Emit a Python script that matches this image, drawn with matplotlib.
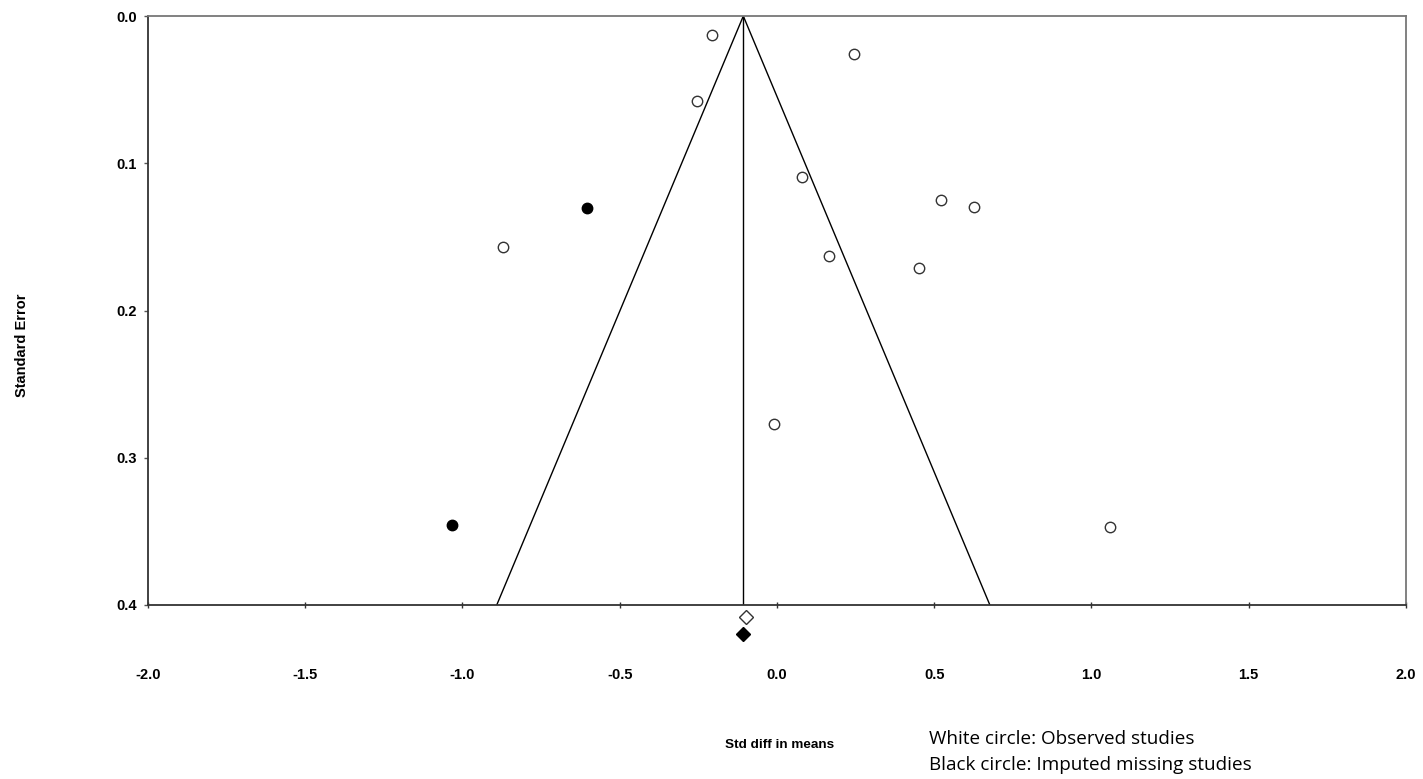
import numpy as np
import matplotlib.pyplot as plt

# observed studies (white circles)
obs_x = [-0.206, 0.246, -0.253, 0.080, 0.521, 0.626, -0.871, 0.165, 0.452, -0.010, 1.059]
obs_se = [0.013, 0.026, 0.058, 0.109, 0.125, 0.130, 0.157, 0.163, 0.171, 0.277, 0.347]

# imputed missing studies (black circles)
imp_x = [-0.603, -1.033]
imp_se = [0.1306, 0.346]

# summary effects
obs_mean = -0.100
adj_mean = -0.107

xticks = [-2.0, -1.5, -1.0, -0.5, 0.0, 0.5, 1.0, 1.5, 2.0]
yticks = [0.0, 0.1, 0.2, 0.3, 0.4]

fig = plt.figure(figsize=(14.23, 7.79), dpi=100)
ax = fig.add_axes([0.104, 0.2234, 0.884, 0.756])

# funnel
se_max = 0.4
ax.plot([adj_mean - 1.96 * se_max, adj_mean, adj_mean + 1.96 * se_max],
        [se_max, 0, se_max], color='black', lw=1)
ax.plot([adj_mean, adj_mean], [0, se_max], color='black', lw=1)

ax.plot(obs_x, obs_se, 'o', ms=7.5, mfc='white', mec='#333333', mew=1)
ax.plot(imp_x, imp_se, 'o', ms=7.5, mfc='black', mec='black', mew=1)

ax.plot([obs_mean], [0.408], 'D', ms=7, mfc='white', mec='#333333', mew=1, clip_on=False)
ax.plot([adj_mean], [0.4197], 'D', ms=7, mfc='black', mec='black', mew=1, clip_on=False)

ax.set_xlim(-2, 2)
ax.set_ylim(0.4, 0)
ax.set_xticks(xticks)
ax.set_yticks(yticks)
ax.set_xticklabels(['%.1f' % t for t in xticks])
ax.set_yticklabels(['%.1f' % t for t in yticks])

for lab in ax.get_xticklabels() + ax.get_yticklabels():
    lab.set_fontfamily('Liberation Sans')
    lab.set_fontweight('bold')
    lab.set_fontsize(10.5)

ax.tick_params(axis='x', direction='inout', length=5, width=1, pad=43, colors='#333333',
               labelcolor='black')
ax.tick_params(axis='y', direction='out', length=3, width=1, pad=5, colors='#555555',
               labelcolor='black')

ax.spines['left'].set_color('#333333')
ax.spines['bottom'].set_color('#333333')
ax.spines['top'].set_color('#777777')
ax.spines['right'].set_color('#777777')
for s in ax.spines.values():
    s.set_linewidth(1.3)

fig.text(0.0155, 0.557, 'Standard Error', rotation=90, ha='center', va='center',
         fontsize=10.5, fontweight='bold', family='Liberation Sans')
fig.text(0.548, 0.044, 'Std diff in means', ha='center', va='center',
         fontsize=9.7, fontweight='bold', family='Liberation Sans')

fig.text(0.653, 0.051, 'White circle: Observed studies', ha='left', va='center',
         fontsize=13.6, family='Open Sans')
fig.text(0.653, 0.018, 'Black circle: Imputed missing studies', ha='left', va='center',
         fontsize=13.6, family='Open Sans')

fig.savefig('out.png', dpi=100)
